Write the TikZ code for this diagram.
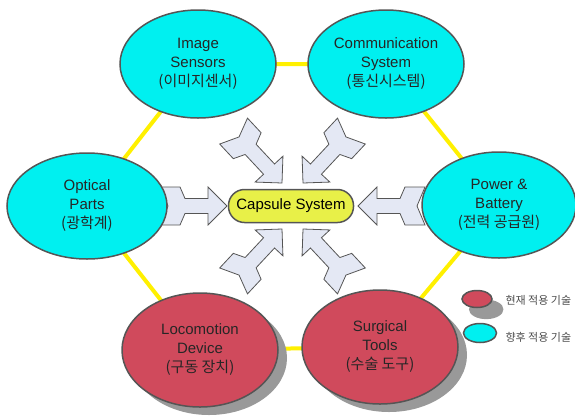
\documentclass[tikz,border=0pt]{standalone}
\usepackage{fontspec}
\setmainfont{Liberation Sans}
\newfontfamily\kr{Noto Sans CJK KR}
\usepackage{tikz}
\usetikzlibrary{shapes.geometric}
\usetikzlibrary{shadows}
\usetikzlibrary{backgrounds}
\usetikzlibrary{positioning}
\definecolor{partcyan}{RGB}{0,240,240}
\definecolor{partred}{RGB}{208,74,92}
\definecolor{capsfill}{RGB}{232,240,72}
\definecolor{arrfill}{RGB}{228,232,244}
\definecolor{edgegray}{RGB}{85,85,85}
\definecolor{hexyellow}{RGB}{255,240,0}
\tikzset{
    part/.style={ellipse, draw=edgegray, line width=1.5pt, inner sep=0pt, align=center, font=\fontsize{15}{19}\selectfont, text=black!85},
    partnow/.style={part, fill=partred, drop shadow={shadow xshift=9pt, shadow yshift=-8pt, fill=black!40, opacity=1}},
    partlater/.style={part, fill=partcyan},
    hexline/.style={hexyellow, line width=4pt},
    pics/blockarrow/.style={code={
        \draw[fill=arrfill, draw=edgegray, line width=0.8pt] (0,0) -- (-19,19) -- (-19,7.5) -- (-#1+25,7.5) -- (-#1+20,19) -- (-#1,19) -- (-#1+8,0) -- (-#1,-19) -- (-#1+20,-19) -- (-#1+25,-7.5) -- (-19,-7.5) -- (-19,-19) -- cycle;
    }}
}
\begin{document}
\begin{tikzpicture}[x=1pt,y=-1pt]
\useasboundingbox (0,0) rectangle (575,416);
\foreach \x/\y/\w/\h/\st/\p/\labeltext in {198/64/156/108/partlater/img/{Image\\Sensors\\{\kr(이미지센서)}}, 386/64/156/108/partlater/com/{Communication\\System\\{\kr(통신시스템)}}, 87/206/160/106/partlater/opt/{Optical\\Parts\\{\kr(광학계)}}, 499/205/154/106/partlater/pow/{Power \&\\Battery\\{\kr(전력 공급원)}}, 200/350/156/114/partnow/loc/{Locomotion\\Device\\{\kr(구동 장치)}}, 380/347/156/114/partnow/sur/{Surgical\\Tools\\{\kr(수술 도구)}}}{
    \node[\st, minimum width=\w pt, minimum height=\h pt] (\p) at (\x,\y) {\labeltext};
}
\node[draw=edgegray, line width=1.5pt, fill=capsfill, rounded corners=16pt, minimum width=125pt, minimum height=33pt, font=\fontsize{15}{19}\selectfont] (caps) at (291,206) {Capsule System};
\begin{scope}[on background layer]
\draw[hexline] (img.center) -- (com.center) -- (pow.center) -- (sur.center) -- (loc.center) -- (opt.center) -- cycle;
\foreach \x/\y/\a/\l in {227/206/0/67, 358/206/180/67, 282/183/-47/71, 303/183/-133/71, 282/229/47/71, 303/229/133/71}{
    \pic[rotate=\a] at (\x,\y) {blockarrow=\l};
}
\end{scope}
% legend
\node[ellipse, draw=edgegray, line width=1.5pt, fill=partred, minimum width=30pt, minimum height=17pt, inner sep=0pt, drop shadow={shadow xshift=8pt, shadow yshift=-9pt, shadow scale=1.15, fill=black!40, opacity=1}] (legnow) at (477,299) {};
\node[ellipse, draw=edgegray, line width=1.5pt, fill=partcyan, minimum width=33pt, minimum height=19pt, inner sep=0pt] (leglater) at (480,333) {};
\node[anchor=west, font=\kr\fontsize{11}{12}\selectfont, text=black!70] (legnowtxt) at (502,300) {현재 적용 기술};
\node[anchor=west, font=\kr\fontsize{11}{12}\selectfont, text=black!70] (leglatertxt) at (502,337) {향후 적용 기술};
\end{tikzpicture}
\end{document}
